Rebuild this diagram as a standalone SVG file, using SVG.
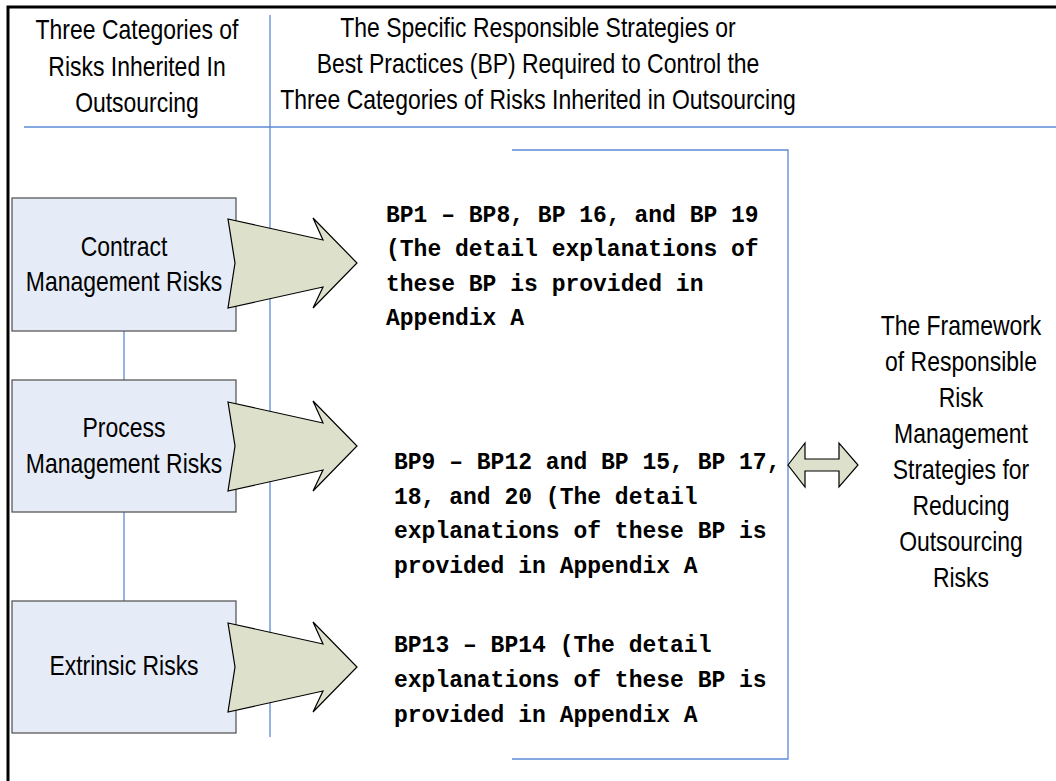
<svg xmlns="http://www.w3.org/2000/svg" width="1056" height="781" viewBox="0 0 1056 781">
<style>
.sans{font-family:"Liberation Sans",Arial,sans-serif;font-size:28px;fill:#000;text-anchor:middle}
.mono{font-family:"Liberation Mono","Courier New",monospace;font-size:23px;font-weight:bold;fill:#000}
.blue{stroke:#5B8AD4;stroke-width:1.3;fill:none}
.box{fill:#E6ECF7;stroke:#595959;stroke-width:1.3}
.arrow{fill:#DDE0CB;stroke:#000;stroke-width:1.2;stroke-linejoin:miter}
</style>
<defs>
<polygon id="bigArrow" points="228,-44 323,-23 313,-45 357,0 313,45 323,24 228,45 235,0"/>
</defs>
<rect x="0" y="0" width="1056" height="781" fill="#fff"/>
<g id="frame">
<path d="M8,781 V7 H1056" fill="none" stroke="#000" stroke-width="3"/>
<line class="blue" x1="270" y1="15" x2="270" y2="737"/>
<line class="blue" x1="24" y1="127" x2="1056" y2="127"/>
<path class="blue" d="M512,150 H788 V759 H512"/>
</g>
<g id="header-left">
<g transform="translate(137 0) scale(0.82 1)">
<text class="sans" x="0" y="39">Three Categories of</text>
<text class="sans" x="0" y="76">Risks Inherited In</text>
<text class="sans" x="0" y="112">Outsourcing</text>
</g>
</g>
<g id="header-right">
<g transform="translate(538 0) scale(0.82 1)">
<text class="sans" x="0" y="37">The Specific Responsible Strategies or</text>
<text class="sans" x="0" y="73">Best Practices (BP) Required to Control the</text>
<text class="sans" x="0" y="109">Three Categories of Risks Inherited in Outsourcing</text>
</g>
</g>
<g id="links">
<line class="blue" x1="124" y1="331" x2="124" y2="380"/>
<line class="blue" x1="124" y1="512" x2="124" y2="601"/>
</g>
<g id="contract">
<rect class="box" x="12" y="198" width="224" height="133"/>
<g transform="translate(124 0) scale(0.82 1)">
<text class="sans" x="0" y="256">Contract</text>
<text class="sans" x="0" y="291">Management Risks</text>
</g>
</g>
<g id="process">
<rect class="box" x="12" y="380" width="224" height="132"/>
<g transform="translate(124 0) scale(0.82 1)">
<text class="sans" x="0" y="437">Process</text>
<text class="sans" x="0" y="473">Management Risks</text>
</g>
</g>
<g id="extrinsic">
<rect class="box" x="12" y="601" width="224" height="132"/>
<g transform="translate(124 0) scale(0.82 1)">
<text class="sans" x="0" y="675">Extrinsic Risks</text>
</g>
</g>
<g id="connectors">
<use href="#bigArrow" class="arrow" transform="translate(0 263)"/>
<use href="#bigArrow" class="arrow" transform="translate(0 446)"/>
<use href="#bigArrow" class="arrow" transform="translate(0 667)"/>
<polygon class="arrow" points="788,465 805,443 805,459 839,459 839,443 858,465 839,487 839,471 805,471 805,487"/>
</g>
<g id="bp-contract">
<text class="mono" x="386" y="222">BP1 – BP8, BP 16, and BP 19</text>
<text class="mono" x="386" y="256">(The detail explanations of</text>
<text class="mono" x="386" y="291">these BP is provided in</text>
<text class="mono" x="386" y="325">Appendix A</text>
</g>
<g id="bp-process">
<text class="mono" x="394" y="469">BP9 – BP12 and BP 15, BP 17,</text>
<text class="mono" x="394" y="504">18, and 20 (The detail</text>
<text class="mono" x="394" y="538">explanations of these BP is</text>
<text class="mono" x="394" y="573">provided in Appendix A</text>
</g>
<g id="bp-extrinsic">
<text class="mono" x="394" y="652">BP13 – BP14 (The detail</text>
<text class="mono" x="394" y="687">explanations of these BP is</text>
<text class="mono" x="394" y="722">provided in Appendix A</text>
</g>
<g id="framework">
<g transform="translate(961 0) scale(0.82 1)">
<text class="sans" x="0" y="335">The Framework</text>
<text class="sans" x="0" y="371">of Responsible</text>
<text class="sans" x="0" y="407">Risk</text>
<text class="sans" x="0" y="443">Management</text>
<text class="sans" x="0" y="479">Strategies for</text>
<text class="sans" x="0" y="515">Reducing</text>
<text class="sans" x="0" y="551">Outsourcing</text>
<text class="sans" x="0" y="587">Risks</text>
</g>
</g>
</svg>
